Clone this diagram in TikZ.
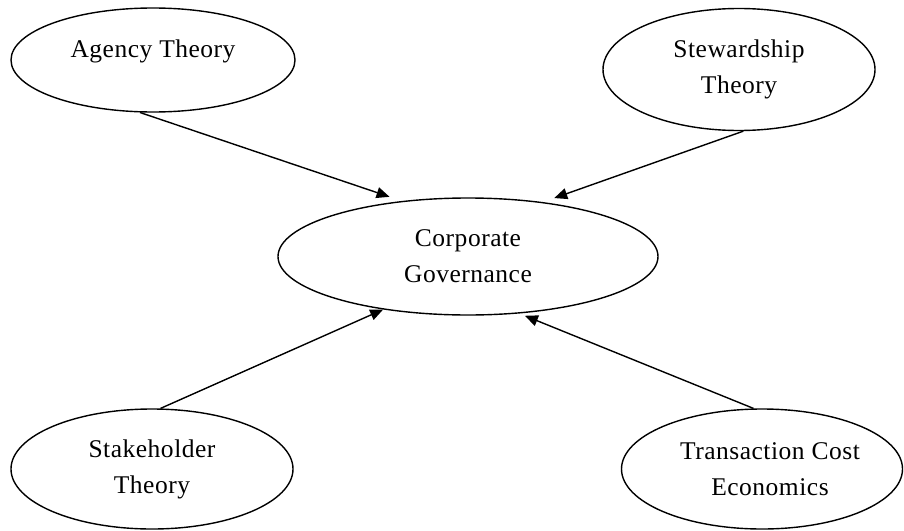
\documentclass[tikz,border=0pt]{standalone}
\usepackage{fontspec}
\setmainfont{Liberation Serif}[LetterSpace=2]
\usetikzlibrary{shapes.geometric,arrows.meta}
\begin{document}
\begin{tikzpicture}[x=1pt,y=-1pt,
  ell/.style={draw, ellipse, line width=1.4pt, inner sep=0pt},
  lbl/.style={font=\fontsize{25.5}{36}\selectfont, align=center},
  arr/.style={line width=1.4pt, -{Triangle[length=13pt,width=11pt]}}]
\useasboundingbox (0,0) rectangle (904,530);
\node[ell, minimum width=284pt, minimum height=104pt,
  label={[lbl, yshift=9pt]center:Agency Theory}] (agency) at (153,60) {};
\node[ell, lbl, minimum width=272pt, minimum height=122pt] (steward) at (739,69.5) {Stewardship\\Theory};
\node[ell, lbl, minimum width=380pt, minimum height=117pt] (corp) at (468,256.5) {Corporate\\Governance};
\node[ell, lbl, minimum width=282pt, minimum height=120pt] (stake) at (152,469) {Stakeholder\\Theory};
\node[ell, minimum width=281pt, minimum height=120pt,
  label={[lbl, xshift=8pt]center:Transaction Cost\\Economics}] (trans) at (762,469) {};
\draw[arr, shorten >=13pt] (agency.-104) -- (corp.140.3);
\draw[arr, shorten >=12pt] (steward.-86.3) -- (corp.36.1);
\draw[arr] (stake.82.5) -- (corp.-148.1);
\draw[arr, shorten >=6pt] (trans.98.5) -- (corp.-48.9);
\end{tikzpicture}
\end{document}
